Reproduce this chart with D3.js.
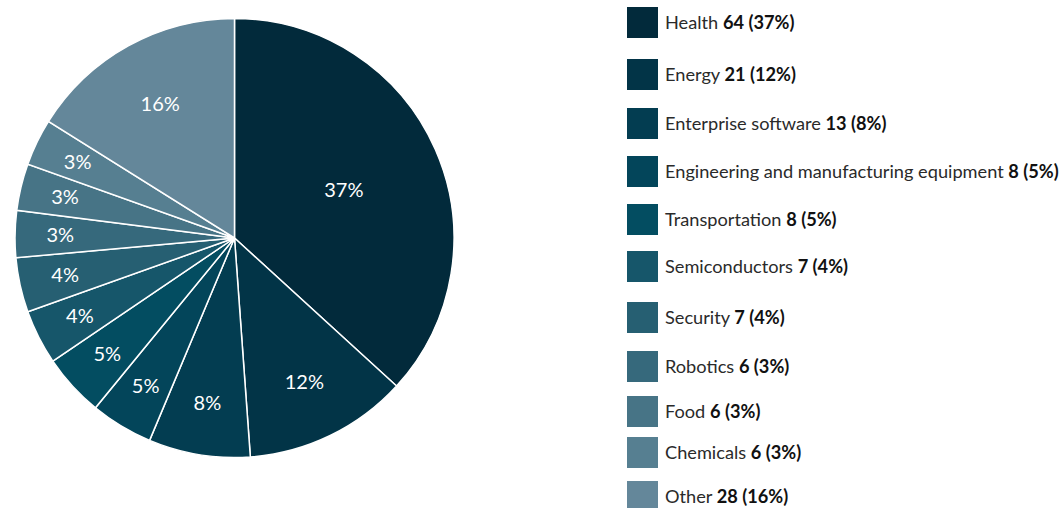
<!DOCTYPE html>
<html lang="en">
<head>
<meta charset="UTF-8">
<title>Pie chart</title>
<script src="https://d3js.org/d3.v7.min.js"></script>
<style>
  body { margin: 0; background: #fff; }
  svg text { font-family: "Lato", "Liberation Sans", sans-serif; }
</style>
</head>
<body>
<svg id="chart" width="1061" height="508"></svg>
<script>
// data
const categories = ["Health", "Energy", "Enterprise software", "Engineering and manufacturing equipment",
  "Transportation", "Semiconductors", "Security", "Robotics", "Food", "Chemicals", "Other"];
const counts = [64, 21, 13, 8, 8, 7, 7, 6, 6, 6, 28];
const colors = ["#022a3b", "#023447", "#033d51", "#03455a", "#034d61", "#16566a",
  "#265f72", "#36697c", "#477486", "#567f91", "#64879a"];

// layout
const width = 1061, height = 508;
const cx = 234.5, cy = 238, radius = 219.5;
const legendX = 627, swatch = 31;
const legendRowY = [7, 59, 108, 156, 204, 251, 302, 351, 396, 437, 481]; // top of each legend row

// percentages, rounded so they add up to 100 (largest remainder)
const total = d3.sum(counts);
const raw = counts.map(c => c / total * 100);
const pct = raw.map(Math.floor);
let left = 100 - d3.sum(pct);
d3.range(raw.length)
  .sort((a, b) => (raw[b] - pct[b]) - (raw[a] - pct[a]))
  .slice(0, left)
  .forEach(i => pct[i] += 1);

const svg = d3.select("#chart");

const color = d3.scaleOrdinal().domain(categories).range(colors);

const pie = d3.pie().sort(null).value(d => d.count);
const rows = categories.map((c, i) => ({ name: c, count: counts[i], pct: pct[i] }));
const arcs = pie(rows);

const arc = d3.arc().innerRadius(0).outerRadius(radius);

const g = svg.append("g").attr("transform", `translate(${cx},${cy})`);

g.selectAll("path")
  .data(arcs)
  .join("path")
  .attr("d", arc)
  .attr("fill", d => color(d.data.name))
  .attr("stroke", "#fff")
  .attr("stroke-width", 1.5);

// labels sit further in for bigger slices
g.selectAll("text")
  .data(arcs)
  .join("text")
  .attr("transform", d => {
    const share = (d.endAngle - d.startAngle) / (2 * Math.PI);
    const r = radius * (0.82 - 0.75 * share);
    return `translate(${d3.arc().innerRadius(r).outerRadius(r).centroid(d)})`;
  })
  .attr("text-anchor", "middle")
  .attr("dy", "0.35em")
  .attr("fill", "#fff")
  .style("font-size", "20px")
  .text(d => d.data.pct + "%");

// legend
const legend = svg.append("g")
  .selectAll("g")
  .data(rows)
  .join("g")
  .attr("transform", (d, i) => `translate(${legendX},${legendRowY[i]})`);

legend.append("rect")
  .attr("width", swatch)
  .attr("height", swatch)
  .attr("fill", d => color(d.name));

const label = legend.append("text")
  .attr("x", 38)
  .attr("y", swatch / 2)
  .attr("dy", "0.35em")
  .attr("fill", "#2a2a2a")
  .style("font-size", "18.2px");

label.append("tspan").text(d => d.name + " ");
label.append("tspan")
  .style("font-weight", "bold")
  .attr("fill", "#111")
  .text(d => `${d.count} (${d.pct}%)`);
</script>
</body>
</html>
